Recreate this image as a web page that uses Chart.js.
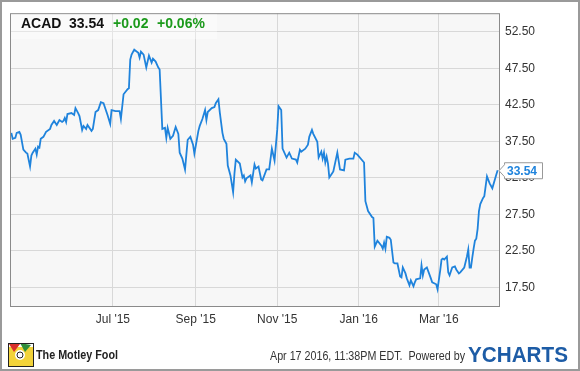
<!DOCTYPE html>
<html>
<head>
<meta charset="utf-8">
<script src="https://cdn.jsdelivr.net/npm/chart.js@4.4.1/dist/chart.umd.min.js"></script>
<style>
  html, body { margin: 0; padding: 0; background: #fff; }
  #wrap { width: 580px; height: 371px; }
</style>
</head>
<body>
<div id="wrap"><canvas id="acadChart" width="580" height="371"></canvas></div>
<script>
// ACAD daily close, one year. x = days since 2015-04-15
var tradingDays = [1,2,4,5,7,8,10,12,13,15,16,17,19,20,21,22,23,25,27,30,31,33,35,37,39,40,41,42,43,46,48,49,51,52,54,55,57,58,61,62,64,66,68,70,73,75,76,79,82,83,85,88,89,90,91,93,94,96,97,98,100,102,104,106,107,109,111,112,114,116,117,118,120,122,124,126,127,129,131,133,135,137,138,141,142,144,146,147,148,151,153,154,156,157,159,160,162,163,165,167,168,169,172,174,175,176,177,180,181,183,184,186,188,189,192,194,196,198,200,201,203,204,207,209,211,214,215,217,218,221,223,224,226,227,230,231,233,234,235,236,237,238,239,241,242,245,247,250,251,254,257,258,260,265,266,268,271,272,273,275,278,279,280,281,282,284,285,287,288,290,292,293,294,296,297,299,300,302,303,304,307,308,309,310,312,315,316,319,320,322,323,324,325,327,328,329,331,333,334,336,337,340,342,343,344,345,346,347,348,349,350,351,352,354,355,357,359,361,364,365];
var closePrices = [38.67,37.85,37.99,38.67,38.80,38.40,36.36,35.95,35.82,34.05,35.55,35.95,36.50,35.68,36.77,36.63,37.85,38.12,38.80,39.21,39.75,40.30,39.75,40.43,40.16,40.30,40.70,40.16,41.25,41.38,41.11,42.06,41.38,40.97,39.07,39.62,39.21,39.75,38.94,39.21,41.52,41.79,42.87,42.74,41.11,39.89,41.79,41.65,41.65,40.57,43.96,44.64,44.77,48.71,49.39,50.07,49.93,49.66,48.98,49.79,49.39,47.62,49.25,48.30,48.84,48.44,47.62,47.35,39.21,39.35,37.99,39.35,37.85,38.26,39.48,38.53,35.95,35.14,33.65,37.72,38.12,37.04,35.82,38.94,39.62,40.57,41.79,40.43,41.52,42.06,42.20,42.74,43.28,41.52,38.67,37.85,37.18,34.19,32.83,30.53,33.10,35.00,34.46,32.56,32.83,32.02,32.43,32.83,31.88,34.33,33.78,34.05,32.29,32.15,33.65,33.65,36.50,34.87,39.07,42.33,41.79,36.50,35.28,35.95,35.14,35.00,34.60,36.36,36.09,36.50,37.04,38.12,39.07,38.53,37.45,35.28,36.09,35.14,35.95,34.60,35.41,34.46,32.56,33.10,33.38,35.95,33.65,33.51,35.00,35.14,35.14,35.95,35.68,34.60,29.30,27.95,27.13,27.00,23.06,23.88,23.20,22.79,23.61,22.79,24.42,24.28,24.01,20.89,20.76,20.76,18.99,18.86,20.21,19.40,18.72,17.77,18.45,17.64,18.18,18.59,18.72,20.49,19.13,19.94,20.21,18.72,18.18,17.91,17.23,19.81,21.30,21.44,21.30,21.71,19.54,19.13,20.21,20.35,19.94,19.40,19.54,20.21,21.71,22.66,20.21,20.21,21.57,22.79,23.88,24.15,25.51,27.95,28.90,29.71,29.98,32.70,31.75,31.07,32.97,33.54];
var monthDays = [77, 139, 200, 261, 321];
var monthLabels = ["Jul '15", "Sep '15", "Nov '15", "Jan '16", "Mar '16"];
var priceTicks = [17.5, 22.5, 27.5, 32.5, 37.5, 42.5, 47.5, 52.5];

var ticker = 'ACAD';
var lastPrice = '33.54';
var change = '+0.02';
var changePct = '+0.06%';
var stampText = 'Apr 17 2016, 11:38PM EDT.  Powered by';

var lineBlue = '#1f83dc';

var decor = {
  id: 'decor',
  beforeDraw: function(chart) {
    var ctx = chart.ctx, a = chart.chartArea;
    ctx.save();
    ctx.fillStyle = '#fff';
    ctx.fillRect(0, 0, chart.width, chart.height);
    ctx.fillStyle = '#f7f7f7';
    ctx.fillRect(a.left, a.top, a.right - a.left, a.bottom - a.top);
    ctx.restore();
  },
  afterDraw: function(chart) {
    var ctx = chart.ctx, a = chart.chartArea;
    ctx.save();

    // plot frame
    ctx.strokeStyle = '#8a8a8a';
    ctx.lineWidth = 1;
    ctx.strokeRect(a.left + 0.5, a.top + 0.5, a.right - a.left, a.bottom - a.top);

    // header
    ctx.fillStyle = 'rgba(255,255,255,0.35)';
    ctx.fillRect(a.left + 1, a.top + 1, 206, 25);
    ctx.font = 'bold 14px "Liberation Sans", Arial, sans-serif';
    ctx.textBaseline = 'alphabetic';
    ctx.fillStyle = '#111';
    ctx.fillText(ticker, 21, 28);
    ctx.fillText(lastPrice, 69, 28);
    ctx.fillStyle = '#1c9a1c';
    ctx.fillText(change, 113, 28);
    ctx.fillText(changePct, 157, 28);

    // last value callout
    var yv = chart.scales.y.getPixelForValue(closePrices[closePrices.length - 1]);
    var bx = a.right + 5, bw = 38, bh = 16;
    ctx.fillStyle = '#fff';
    ctx.strokeStyle = '#999';
    ctx.beginPath();
    ctx.moveTo(a.right, yv + 0.5);
    ctx.lineTo(bx + 0.5, yv - 5.5);
    ctx.lineTo(bx + 0.5, yv - bh / 2 + 0.5);
    ctx.lineTo(bx + bw + 0.5, yv - bh / 2 + 0.5);
    ctx.lineTo(bx + bw + 0.5, yv + bh / 2 + 0.5);
    ctx.lineTo(bx + 0.5, yv + bh / 2 + 0.5);
    ctx.lineTo(bx + 0.5, yv + 6.5);
    ctx.closePath();
    ctx.fill();
    ctx.stroke();
    ctx.fillStyle = lineBlue;
    ctx.font = 'bold 12px "Liberation Sans", Arial, sans-serif';
    ctx.textBaseline = 'middle';
    ctx.fillText(lastPrice, bx + 3, yv + 1);

    // footer: Motley Fool mark
    ctx.fillStyle = '#f2d33a';
    ctx.fillRect(9, 347, 24, 19);
    ctx.fillStyle = '#d9302a';
    ctx.beginPath(); ctx.moveTo(9, 344); ctx.lineTo(20, 344); ctx.lineTo(14, 352); ctx.closePath(); ctx.fill();
    ctx.fillStyle = '#2f8f3a';
    ctx.beginPath(); ctx.moveTo(20, 343); ctx.lineTo(31, 345); ctx.lineTo(25, 352); ctx.closePath(); ctx.fill();
    ctx.fillStyle = '#fff';
    ctx.beginPath(); ctx.arc(20, 355, 5, 0, Math.PI * 2); ctx.fill();
    ctx.strokeStyle = '#222';
    ctx.lineWidth = 1;
    ctx.strokeRect(8.5, 343.5, 25, 23);
    ctx.beginPath(); ctx.arc(20, 355, 3, 0, Math.PI * 2); ctx.stroke();
    ctx.fillStyle = '#222';
    ctx.font = 'bold 13px "Liberation Sans", Arial, sans-serif';
    ctx.textBaseline = 'middle';
    ctx.fillText('The Motley Fool', 36, 355, 82);

    // footer: timestamp + YCHARTS
    ctx.fillStyle = '#333';
    ctx.font = '12px "Liberation Sans", Arial, sans-serif';
    ctx.fillText(stampText, 270, 357, 195);
    ctx.fillStyle = '#1d5ca6';
    ctx.font = 'bold 22px "Liberation Sans", Arial, sans-serif';
    ctx.fillText('YCHARTS', 468, 356, 100);

    // outer frame
    ctx.strokeStyle = '#9a9a9a';
    ctx.lineWidth = 2;
    ctx.strokeRect(1, 1, chart.width - 2, chart.height - 2);
    ctx.restore();
  }
};

new Chart('acadChart', {
  type: 'line',
  data: {
    datasets: [{
      data: tradingDays.map(function(d, i) { return { x: d, y: closePrices[i] }; }),
      borderColor: lineBlue,
      borderWidth: 1.8,
      pointRadius: 0,
      tension: 0,
      fill: false
    }]
  },
  options: {
    responsive: false,
    animation: false,
    devicePixelRatio: 1,
    layout: { padding: { left: 10, top: 10, right: 11, bottom: 10 } },
    plugins: { legend: { display: false }, tooltip: { enabled: false } },
    scales: {
      x: {
        type: 'linear',
        min: 0,
        max: 366,
        afterBuildTicks: function(axis) {
          axis.ticks = monthDays.map(function(v) { return { value: v }; });
        },
        afterFit: function(axis) { axis.height = 55; },
        grid: { color: '#d8d8d8', drawTicks: false },
        border: { display: false },
        ticks: {
          padding: 6,
          maxRotation: 0,
          autoSkip: false,
          color: '#333',
          font: { family: '"Liberation Sans", Arial, sans-serif', size: 12 },
          callback: function(v) { return monthLabels[monthDays.indexOf(v)]; }
        }
      },
      y: {
        position: 'right',
        min: 14.93,
        max: 55.07,
        afterBuildTicks: function(axis) {
          axis.ticks = priceTicks.map(function(v) { return { value: v }; });
        },
        afterFit: function(axis) { axis.width = 70; },
        grid: { color: '#d8d8d8', drawTicks: false },
        border: { display: false },
        ticks: {
          padding: 6,
          color: '#333',
          font: { family: '"Liberation Sans", Arial, sans-serif', size: 12 },
          callback: function(v) { return v.toFixed(2); }
        }
      }
    }
  },
  plugins: [decor]
});
</script>
</body>
</html>
